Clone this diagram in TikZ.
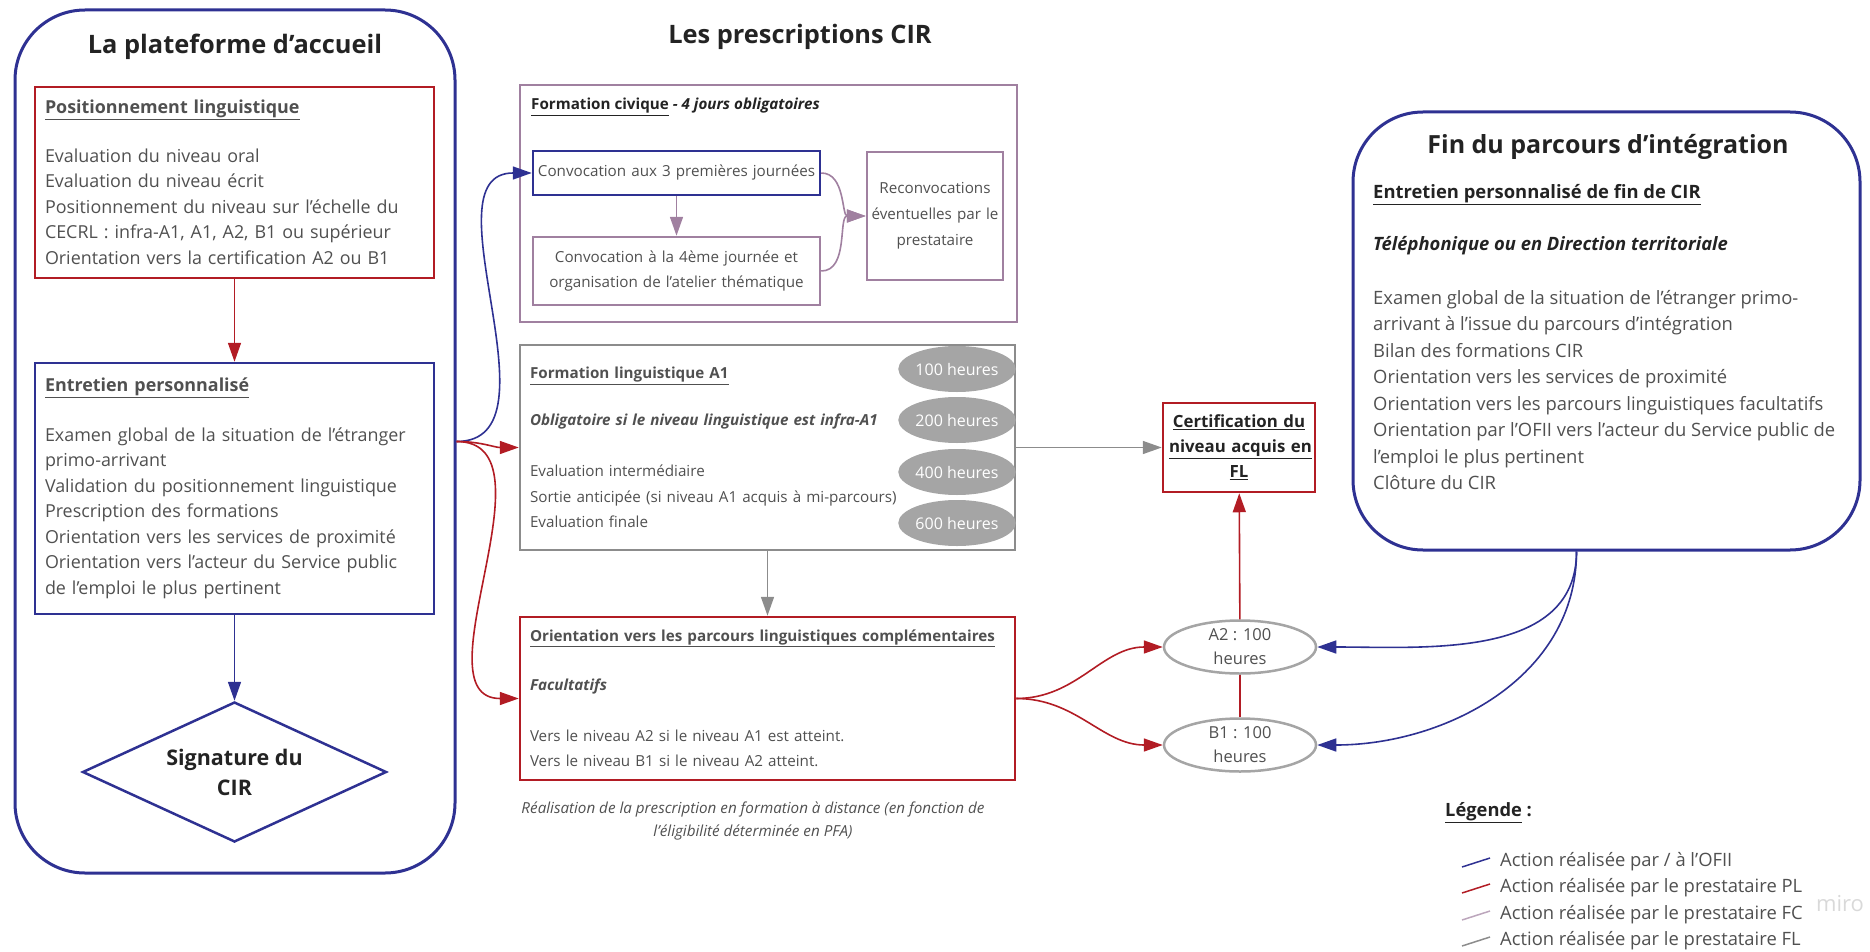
\documentclass[tikz,border=0pt]{standalone}
\usepackage{fontspec}
\setmainfont{Open Sans}
\usepackage{tikz}
\usetikzlibrary{arrows.meta, shapes.geometric}

\definecolor{ofiiblue}{RGB}{46,49,146}
\definecolor{plred}{RGB}{178,28,36}
\definecolor{fcmauve}{RGB}{160,128,160}
\definecolor{flgray}{RGB}{140,140,140}
\definecolor{ellgray}{RGB}{165,165,165}
\definecolor{txtgray}{RGB}{80,80,80}
\definecolor{headtxt}{RGB}{35,35,35}

\newcommand{\accsize}{\fontsize{17.9}{25.5}\selectfont}
\newcommand{\presize}{\fontsize{15.2}{25.5}\selectfont}
\newcommand{\finsize}{\fontsize{18.4}{26.5}\selectfont}
\newcommand{\headsize}{\fontsize{25.4}{30}\selectfont\bfseries}

\begin{document}
\begin{tikzpicture}[x=1pt, y=-1pt,
    box/.style={draw, line width=2.5pt, align=left, inner xsep=10pt, inner ysep=0pt, font=\presize, text=txtgray},
    big/.style={draw=ofiiblue, line width=3pt, rounded corners=70pt},
    hours/.style={ellipse, fill=ellgray, text=white, minimum width=115pt, minimum height=46pt, inner sep=0pt, font=\fontsize{16}{20}\selectfont},
    lvl/.style={ellipse, draw=ellgray, line width=2.5pt, fill=white, minimum width=152pt, minimum height=53pt, inner sep=0pt, align=center, font=\fontsize{16.5}{24}\selectfont, text=txtgray},
    arr/.style={line width=1.6pt, -{Triangle[length=19pt, width=13pt]}},
    title/.style={font=\headsize, text=headtxt}]

  \useasboundingbox (0,0) rectangle (1870,952);

  % la plateforme d'accueil
  \node[big, minimum width=440pt, minimum height=863pt] (acc) at (235,441.5) {};
  \node[title] (acct) at (235,47) {La plateforme d'accueil};
  \node[box, draw=plred, font=\accsize, text width=379pt, minimum height=191pt] (pos) at (234.5,182.5) {\underline{\textbf{Positionnement linguistique}}\\[23pt]
    Evaluation du niveau oral\\
    Evaluation du niveau écrit\\
    Positionnement du niveau sur l'échelle du\\
    CECRL : infra-A1, A1, A2, B1 ou supérieur\\
    Orientation vers la certification A2 ou B1};
  \node[box, draw=ofiiblue, font=\accsize, text width=379pt, minimum height=251pt] (ent) at (234.5,488.5) {\underline{\textbf{Entretien personnalisé}}\\[24pt]
    Examen global de la situation de l'étranger\\
    primo-arrivant\\
    Validation du positionnement linguistique\\
    Prescription des formations\\
    Orientation vers les services de proximité\\
    Orientation vers l'acteur du Service public\\
    de l'emploi le plus pertinent};
  \node[diamond, draw=ofiiblue, line width=2.5pt, aspect=2.17, minimum width=304pt, minimum height=140pt, inner sep=0pt, align=center, font=\fontsize{21.5}{30}\selectfont\bfseries, text=headtxt] (sig) at (234.5,772) {Signature du\\CIR};
  \draw[arr, plred] (pos) -- (ent);
  \draw[arr, ofiiblue] (ent) -- (sig);

  % les prescriptions
  \node[title] (prest) at (800,37) {Les prescriptions CIR};
  \node[draw=fcmauve, line width=2.5pt, minimum width=497pt, minimum height=237pt] (civ) at (768.5,203.5) {};
  \node[anchor=west, inner sep=0pt, font=\presize, text=headtxt] (civt) at (531,107) {\underline{\textbf{Formation civique}} \textbf{\textit{- 4 jours obligatoires}}};
  \node[box, draw=ofiiblue, align=center, inner xsep=4pt, text width=279pt, minimum height=44pt] (conv3) at (676.5,173) {Convocation aux 3 premières journées};
  \node[box, draw=fcmauve, align=center, inner xsep=4pt, text width=279pt, minimum height=68pt, font=\fontsize{15.2}{25}\selectfont] (conv4) at (676.5,271) {Convocation à la 4ème journée et\\organisation de l'atelier thématique};
  \node[box, draw=fcmauve, align=center, inner xsep=4pt, text width=128pt, minimum height=128pt, font=\fontsize{15.2}{26}\selectfont] (reconv) at (935,216) {Reconvocations\\éventuelles par le\\prestataire};
  \draw[arr, fcmauve] (conv3) -- (conv4);
  \draw[arr, fcmauve] (conv3.east) to[out=0, in=180] (reconv.west);
  \draw[arr, fcmauve] (conv4.east) to[out=0, in=180] (reconv.west);

  \node[box, draw=flgray, text width=475pt, minimum height=205pt] (fl) at (767.5,447.5) {\underline{\textbf{Formation linguistique A1}}\\[21pt]
    \textbf{\textit{Obligatoire si le niveau linguistique est infra-A1}}\\[26pt]
    Evaluation intermédiaire\\
    Sortie anticipée (si niveau A1 acquis à mi-parcours)\\
    Evaluation finale};
  \node[hours] (h100) at (957,369) {100 heures};
  \node[hours] (h200) at (957,420) {200 heures};
  \node[hours] (h400) at (957,472) {400 heures};
  \node[hours] (h600) at (957,523) {600 heures};

  \node[box, draw=plred, text width=475pt, minimum height=163pt] (orient) at (767.5,698.5) {\underline{\textbf{Orientation vers les parcours linguistiques complémentaires}}\\[24pt]
    \textbf{\textit{Facultatifs}}\\[25pt]
    Vers le niveau A2 si le niveau A1 est atteint.\\
    Vers le niveau B1 si le niveau A2 atteint.};
  \node[align=center, font=\fontsize{15.2}{23}\selectfont\itshape, text=txtgray] (dist) at (753,821) {Réalisation de la prescription en formation à distance (en fonction de\\l'éligibilité déterminée en PFA)};
  \draw[arr, flgray] (fl) -- (orient);

  \draw[arr, ofiiblue] (acc.east) to[out=0, in=180] (conv3.west);
  \draw[arr, plred] (acc.east) to[out=0, in=180] (fl.west);
  \draw[arr, plred] (acc.east) to[out=0, in=180] (orient.west);

  % certification
  \node[box, draw=plred, align=center, text width=140pt, inner xsep=6pt, minimum height=89pt, font=\fontsize{16.8}{25}\selectfont\bfseries, text=headtxt] (cert) at (1239,447.5) {\underline{Certification du}\\\underline{niveau acquis en}\\\underline{FL}};
  \node[lvl] (a2) at (1240,647) {A2 : 100\\heures};
  \node[lvl] (b1) at (1240,745) {B1 : 100\\heures};
  \draw[arr, flgray] (fl.east) -- (cert.west);
  \draw[arr, plred] (orient.east) to[out=0, in=180] (a2.west);
  \draw[arr, plred] (orient.east) to[out=0, in=180] (b1.west);
  \draw[arr, plred] (a2) -- (cert);
  \draw[plred, line width=1.6pt] (b1) -- (a2);

  % fin du parcours
  \node[big, minimum width=507pt, minimum height=438pt] (fin) at (1606.5,331) {};
  \node[title, font=\fontsize{25}{30}\selectfont\bfseries] (fint) at (1608,147) {Fin du parcours d'intégration};
  \node[anchor=north west, align=left, inner sep=0pt, font=\finsize, text=txtgray] (fintxt) at (1373,184) {\textcolor{headtxt}{\underline{\textbf{Entretien personnalisé de fin de CIR}}}\\[26pt]
    \textcolor{headtxt}{\textbf{\textit{Téléphonique ou en Direction territoriale}}}\\[27pt]
    Examen global de la situation de l'étranger primo-\\
    arrivant à l'issue du parcours d'intégration\\
    Bilan des formations CIR\\
    Orientation vers les services de proximité\\
    Orientation vers les parcours linguistiques facultatifs\\
    Orientation par l'OFII vers l'acteur du Service public de\\
    l'emploi le plus pertinent\\
    Clôture du CIR};
  \draw[arr, ofiiblue] ([xshift=-30pt]fin.south) to[out=-90, in=0] (a2.east);
  \draw[arr, ofiiblue] ([xshift=-30pt]fin.south) to[out=-90, in=0] (b1.east);

  % legende
  \node[text=black!15, font=\fontsize{22}{22}\selectfont] (miro) at (1840,904) {miro};
  \node[anchor=west, inner sep=0pt, font=\fontsize{18.3}{20}\selectfont\bfseries, text=headtxt] (leg) at (1445,813) {\underline{Légende} :};
  \node[anchor=west, inner sep=0pt, font=\finsize, text=txtgray] (leg1) at (1500,862) {Action réalisée par / à l'OFII};
  \node[anchor=west, inner sep=0pt, font=\finsize, text=txtgray] (leg2) at (1500,888) {Action réalisée par le prestataire PL};
  \node[anchor=west, inner sep=0pt, font=\finsize, text=txtgray] (leg3) at (1500,915) {Action réalisée par le prestataire FC};
  \node[anchor=west, inner sep=0pt, font=\finsize, text=txtgray] (leg4) at (1500,941) {Action réalisée par le prestataire FL};
  \draw[ofiiblue, line width=1.5pt] ([xshift=-38pt, yshift=-5pt]leg1.west) -- ([xshift=-10pt, yshift=4pt]leg1.west);
  \draw[plred, line width=1.5pt] ([xshift=-38pt, yshift=-5pt]leg2.west) -- ([xshift=-10pt, yshift=4pt]leg2.west);
  \draw[fcmauve!70, line width=1.5pt] ([xshift=-38pt, yshift=-5pt]leg3.west) -- ([xshift=-10pt, yshift=4pt]leg3.west);
  \draw[flgray, line width=1.5pt] ([xshift=-38pt, yshift=-5pt]leg4.west) -- ([xshift=-10pt, yshift=4pt]leg4.west);
\end{tikzpicture}
\end{document}
